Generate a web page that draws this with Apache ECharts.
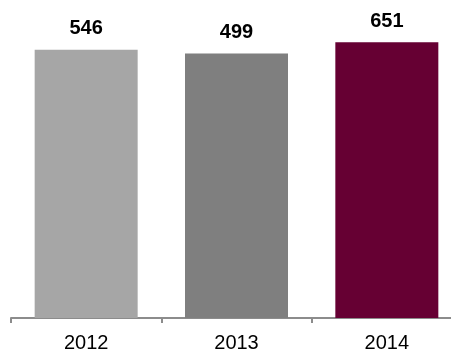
<!DOCTYPE html>
<html>
<head>
<meta charset="utf-8">
<script src="https://cdn.jsdelivr.net/npm/echarts@6/dist/echarts.min.js"></script>
<style>
  html, body { margin: 0; padding: 0; background: #fff; }
  #main { width: 451px; height: 354px; }
</style>
</head>
<body>
<div id="main"></div>
<script type="text/javascript">
// chart data
var years = ['2012', '2013', '2014'];
var values = [546, 499, 651];
var barColors = ['#A6A6A6', '#7F7F7F', '#660033'];

var myChart = echarts.init(document.getElementById('main'));

var option = {
    backgroundColor: '#fff',
    animation: false,
    grid: {
        left: 11,
        right: -11,
        top: 24,
        bottom: 36,
        outerBoundsMode: 'none'
    },
    xAxis: {
        type: 'category',
        data: years,
        axisLine: { lineStyle: { color: '#8C8C8C', width: 2 } },
        axisTick: { show: true, length: 5, lineStyle: { color: '#8C8C8C', width: 2 } },
        axisLabel: {
            color: '#000',
            fontFamily: 'Liberation Sans',
            fontSize: 20,
            margin: 15
        }
    },
    yAxis: {
        // the source bars follow a log scale
        type: 'log',
        logBase: 10,
        min: 1,
        max: 1000,
        show: false,
        splitLine: { show: false }
    },
    series: [{
        type: 'bar',
        barWidth: 103,
        data: values.map(function (v, i) {
            return { value: v, itemStyle: { color: barColors[i] } };
        }),
        label: {
            show: true,
            position: 'top',
            distance: 11,
            color: '#000',
            fontFamily: 'Liberation Sans',
            fontWeight: 'bold',
            fontSize: 20
        }
    }]
};

myChart.setOption(option);
</script>
</body>
</html>
